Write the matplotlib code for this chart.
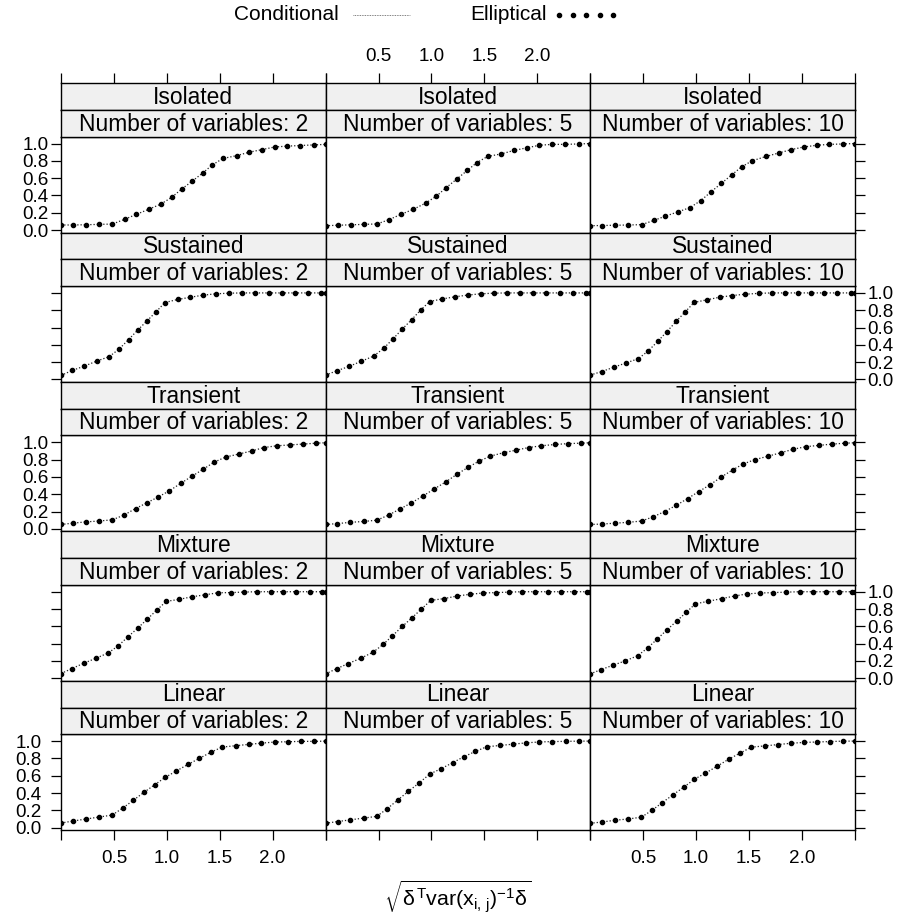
import numpy as np
import matplotlib
matplotlib.use("Agg")
import matplotlib.pyplot as plt
from matplotlib.lines import Line2D

plt.rcParams['font.family'] = ['Liberation Sans', 'DejaVu Sans']
plt.rcParams['mathtext.fontset'] = 'custom'
plt.rcParams['mathtext.rm'] = 'Liberation Sans'
plt.rcParams['mathtext.it'] = 'Liberation Sans'
plt.rcParams['mathtext.bf'] = 'Liberation Sans:bold'

# ---- data -----------------------------------------------------------------
fault_types = ["Isolated", "Sustained", "Transient", "Mixture", "Linear"]
n_variables = [2, 5, 10]

x_isolated = [0, 0.116, 0.237, 0.36, 0.486, 0.6, 0.71, 0.83, 0.944, 1.045, 1.14,
              1.24, 1.34, 1.43, 1.53, 1.66, 1.78, 1.9, 2.02, 2.14, 2.26, 2.39, 2.5]
x_sustained = [0, 0.107, 0.221, 0.338, 0.455, 0.549, 0.638, 0.723, 0.812, 0.897,
               0.982, 1.101, 1.222, 1.342, 1.465, 1.591, 1.714, 1.837, 1.963,
               2.087, 2.21, 2.333, 2.46, 2.5]
x_transient = [0, 0.11, 0.235, 0.36, 0.486, 0.597, 0.704, 0.811, 0.921, 1.025,
               1.133, 1.24, 1.345, 1.446, 1.556, 1.682, 1.802, 1.919, 2.039,
               2.166, 2.289, 2.412, 2.5]
x_mixture = [0, 0.104, 0.215, 0.331, 0.448, 0.543, 0.631, 0.726, 0.817, 0.906,
             0.994, 1.117, 1.241, 1.364, 1.484, 1.607, 1.73, 1.853, 1.98, 2.102,
             2.225, 2.348, 2.47, 2.5]
x_linear = [0, 0.114, 0.234, 0.36, 0.483, 0.584, 0.682, 0.783, 0.887, 0.985,
            1.089, 1.2, 1.307, 1.414, 1.522, 1.65, 1.774, 1.894, 2.02, 2.143,
            2.27, 2.393, 2.5]

# detection rate, one list per (fault type, number of variables)
isolated_2 = [0.058, 0.058, 0.061, 0.065, 0.069, 0.123, 0.18, 0.24, 0.30, 0.377,
              0.473, 0.565, 0.66, 0.753, 0.827, 0.86, 0.9, 0.93, 0.96, 0.97,
              0.977, 0.984, 0.99]
isolated_5 = [0.05, 0.055, 0.06, 0.065, 0.07, 0.12, 0.18, 0.24, 0.31, 0.39, 0.49,
              0.59, 0.69, 0.78, 0.85, 0.88, 0.92, 0.95, 0.98, 0.99, 0.99, 0.995,
              1.0]
isolated_10 = [0.05, 0.052, 0.055, 0.058, 0.062, 0.11, 0.16, 0.21, 0.26, 0.34,
               0.44, 0.54, 0.64, 0.73, 0.80, 0.85, 0.89, 0.93, 0.96, 0.98, 0.99,
               0.995, 1.0]
sustained_2 = [0.046, 0.104, 0.154, 0.212, 0.263, 0.351, 0.46, 0.568, 0.676, 0.78,
               0.889, 0.924, 0.95, 0.974, 0.99, 0.997, 1.0, 1.0, 1.0, 1.0, 1.0,
               1.0, 1.0, 1.0]
sustained_5 = [0.05, 0.1, 0.15, 0.21, 0.27, 0.36, 0.47, 0.58, 0.69, 0.8, 0.9,
               0.93, 0.955, 0.975, 0.99, 0.997, 1.0, 1.0, 1.0, 1.0, 1.0, 1.0,
               1.0, 1.0]
sustained_10 = [0.05, 0.09, 0.14, 0.19, 0.24, 0.33, 0.44, 0.55, 0.67, 0.78, 0.89,
                0.92, 0.95, 0.97, 0.985, 0.995, 1.0, 1.0, 1.0, 1.0, 1.0, 1.0,
                1.0, 1.0]
transient_2 = [0.05, 0.065, 0.08, 0.09, 0.104, 0.16, 0.234, 0.30, 0.37, 0.44,
               0.527, 0.61, 0.69, 0.77, 0.83, 0.865, 0.9, 0.94, 0.96, 0.97, 0.98,
               0.99, 0.995]
transient_5 = [0.05, 0.06, 0.075, 0.085, 0.1, 0.16, 0.23, 0.3, 0.38, 0.46, 0.54,
               0.63, 0.71, 0.78, 0.84, 0.88, 0.91, 0.94, 0.96, 0.975, 0.985,
               0.99, 0.995]
transient_10 = [0.05, 0.055, 0.065, 0.075, 0.09, 0.14, 0.2, 0.27, 0.35, 0.43,
                0.51, 0.6, 0.68, 0.75, 0.8, 0.84, 0.88, 0.92, 0.95, 0.965,
                0.98, 0.99, 0.995]
mixture_2 = [0.054, 0.112, 0.173, 0.231, 0.293, 0.377, 0.477, 0.58, 0.685, 0.789,
             0.888, 0.912, 0.942, 0.965, 0.988, 0.99, 0.996, 1.0, 1.0, 1.0, 1.0,
             1.0, 1.0, 1.0]
mixture_5 = [0.05, 0.11, 0.17, 0.23, 0.3, 0.39, 0.49, 0.6, 0.7, 0.8, 0.9, 0.92,
             0.95, 0.97, 0.985, 0.99, 0.995, 1.0, 1.0, 1.0, 1.0, 1.0, 1.0, 1.0]
mixture_10 = [0.05, 0.1, 0.15, 0.2, 0.26, 0.35, 0.45, 0.56, 0.66, 0.76, 0.86,
              0.89, 0.92, 0.95, 0.975, 0.985, 0.99, 0.995, 1.0, 1.0, 1.0, 1.0,
              1.0, 1.0]
linear_2 = [0.053, 0.076, 0.099, 0.122, 0.145, 0.226, 0.315, 0.407, 0.497, 0.581,
            0.654, 0.731, 0.8, 0.87, 0.931, 0.947, 0.962, 0.977, 0.989, 0.993,
            0.997, 0.997, 1.0]
linear_5 = [0.05, 0.07, 0.09, 0.11, 0.13, 0.22, 0.32, 0.42, 0.52, 0.62, 0.68,
            0.75, 0.82, 0.88, 0.935, 0.95, 0.965, 0.98, 0.99, 0.995, 0.997,
            1.0, 1.0]
linear_10 = [0.05, 0.065, 0.085, 0.1, 0.12, 0.2, 0.29, 0.38, 0.47, 0.56, 0.63,
             0.71, 0.79, 0.86, 0.93, 0.945, 0.96, 0.975, 0.985, 0.99, 0.995,
             1.0, 1.0]

x_by_fault = {"Isolated": x_isolated, "Sustained": x_sustained,
              "Transient": x_transient, "Mixture": x_mixture, "Linear": x_linear}
rates = {
    "Isolated": [isolated_2, isolated_5, isolated_10],
    "Sustained": [sustained_2, sustained_5, sustained_10],
    "Transient": [transient_2, transient_5, transient_10],
    "Mixture": [mixture_2, mixture_5, mixture_10],
    "Linear": [linear_2, linear_5, linear_10],
}

x_ticks = [0, 0.5, 1.0, 1.5, 2.0, 2.5]
x_tick_labels = ["", "0.5", "1.0", "1.5", "2.0", ""]
y_ticks = [0.0, 0.2, 0.4, 0.6, 0.8, 1.0]
y_tick_labels = ["0.0", "0.2", "0.4", "0.6", "0.8", "1.0"]

# ---- layout (pixels) ------------------------------------------------------
W, H = 908, 921
fig = plt.figure(figsize=(W / 100, H / 100), dpi=100)

left0, col_w = 61.0, 264.6
top0, row_h = 136.6, 149.4
panel_h, strip_h = 96.0, 26.7
FS_TEXT = 16.4      # strips, axis title
FS_KEY = 15.0       # key labels
FS_TICK = 13.6      # tick labels
STRIP_BG = "#f0f0f0"


def add_px_axes(x, y_top, w, h):
    return fig.add_axes([x / W, 1 - (y_top + h) / H, w / W, h / H])


def style_ticks(ax):
    ax.tick_params(direction="out", length=7, width=0.9, labelsize=FS_TICK,
                   pad=2, bottom=False, top=False, left=False, right=False,
                   labelbottom=False, labeltop=False, labelleft=False,
                   labelright=False)


line_style = dict(color="#222222", lw=0.9, linestyle=(0, (1, 1.6)))
point_style = dict(color="black", marker="o", markersize=3.0, linestyle="none")

for r, fault in enumerate(fault_types):
    xs = x_by_fault[fault]
    for c, nv in enumerate(n_variables):
        x0 = left0 + col_w * c
        ptop = top0 + row_h * r
        ax = add_px_axes(x0, ptop, col_w, panel_h)
        ys = rates[fault][c]
        ax.plot(xs, ys, **line_style)          # Conditional
        ax.plot(xs, ys, **point_style)         # Elliptical
        ax.set_xlim(0, 2.5)
        ax.set_ylim(-0.03, 1.08)
        ax.set_xticks(x_ticks)
        ax.set_xticklabels(x_tick_labels)
        ax.set_yticks(y_ticks)
        ax.set_yticklabels(y_tick_labels)
        style_ticks(ax)
        if c == 0:
            ax.tick_params(left=True, labelleft=(r % 2 == 0))
        if c == 2:
            ax.tick_params(right=True, labelright=(r % 2 == 1))
        if r == len(fault_types) - 1:
            ax.tick_params(bottom=True, labelbottom=(c != 1), pad=7)
        for s in ax.spines.values():
            s.set_linewidth(1.0)

        # two strips above each panel
        for k, label in enumerate([fault, f"Number of variables: {nv}"]):
            sax = add_px_axes(x0, ptop - strip_h * (2 - k), col_w, strip_h)
            sax.set_facecolor(STRIP_BG)
            sax.set_xlim(0, 2.5)
            sax.set_ylim(0, 1)
            sax.set_yticks([])
            sax.set_xticks(x_ticks)
            sax.set_xticklabels(x_tick_labels)
            style_ticks(sax)
            if r == 0 and k == 0:
                sax.tick_params(top=True, labeltop=(c == 1), pad=6)
            sax.text(0.5, 0.47, label, transform=sax.transAxes, ha="center",
                     va="center", fontsize=FS_TEXT)
            for s in sax.spines.values():
                s.set_linewidth(1.0)

# axis title
fig.text(458 / W, 1 - 897 / H,
         r"$\sqrt{\delta^{\mathrm{T}}\mathrm{var}(\mathrm{x}_{\mathrm{i,\,j}})^{-1}\delta}$",
         ha="center", va="center", fontsize=FS_TEXT - 1)

# key above the panels
key_y = 1 - 15 / H
fig.text(286 / W, key_y, "Conditional", ha="center", va="center",
         fontsize=FS_KEY)
fig.text(509 / W, key_y, "Elliptical", ha="center", va="center",
         fontsize=FS_KEY)
fig.add_artist(Line2D([353 / W, 410 / W], [key_y, key_y],
                      transform=fig.transFigure, color="#555555", lw=0.6,
                      linestyle=(0, (1, 1))))
fig.add_artist(Line2D(np.linspace(559, 613, 5) / W, [key_y] * 5,
                      transform=fig.transFigure, color="black", marker="o",
                      markersize=3.0, linestyle="none"))

fig.savefig("out.png", dpi=100)
